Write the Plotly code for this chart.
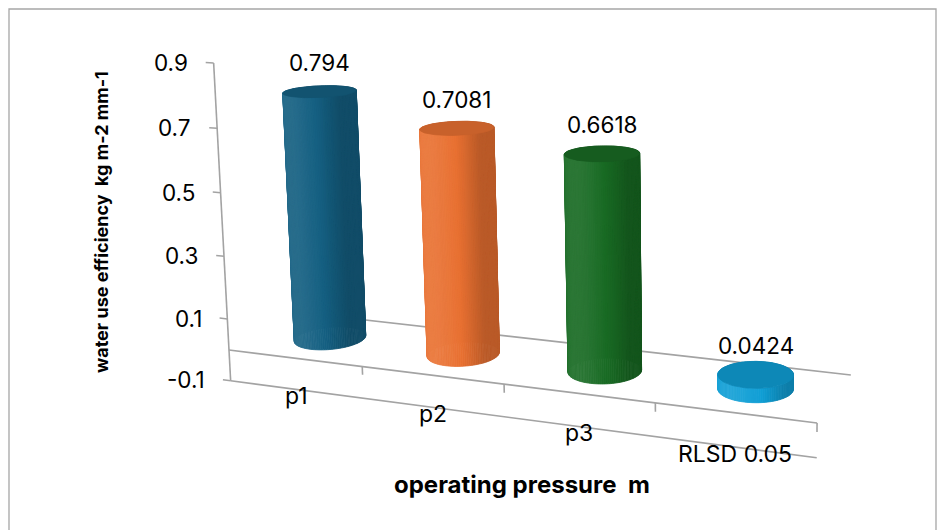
import numpy as np
import plotly.graph_objects as go

# ---- data -------------------------------------------------------------
categories = ["p1", "p2", "p3", "RLSD 0.05"]
values = [0.794, 0.7081, 0.6618, 0.0424]
value_labels = ["0.794", "0.7081", "0.6618", "0.0424"]
bar_colors = ["#156082", "#E97132", "#196B24", "#0F9ED5"]
y_tick_values = [-0.1, 0.1, 0.3, 0.5, 0.7, 0.9]
y_tick_labels = ["-0.1", "0.1", "0.3", "0.5", "0.7", "0.9"]
y_title = "water use efficiency  kg m-2 mm-1"
x_title = "operating pressure  m"

# ---- page / scene setup ----------------------------------------------
W, H = 946, 530
V_MIN, V_MAX = -0.1, 0.9
FONT = "Inter, Liberation Sans, Arial, sans-serif"
AXIS_GREY = "#a3a3a3"

# Perspective camera written as a projective map: image of the front-left
# floor corner plus the (scaled) vanishing points of the category, depth
# and value directions.
ORIGIN = np.array([229.0, 350.0, 1.0])
CAT_DIR = -0.0303 * np.array([-4035.0, -179.0, 1.0])
DEPTH_DIR = 0.0778 * np.array([1232.0, -167.0, 1.0])
VALUE_DIR = -0.03344 * np.array([724.0, 9600.0, 1.0])
DEPTH_PER_CAT = 1.22      # floor depth units per category unit (world metric)


def project(c, d, v):
    c, d, v = np.broadcast_arrays(np.atleast_1d(np.asarray(c, float)),
                                  np.atleast_1d(np.asarray(d, float)),
                                  np.atleast_1d(np.asarray(v, float)))
    h = (ORIGIN[:, None]
         + np.outer(CAT_DIR, c.ravel())
         + np.outer(DEPTH_DIR, d.ravel())
         + np.outer(VALUE_DIR, v.ravel()))
    return h[0] / h[2], h[1] / h[2], h[2]


def shade(hex_color, f):
    rgb = [int(hex_color[i:i + 2], 16) for i in (1, 3, 5)]
    out = []
    for ch in rgb:
        if f <= 1:
            out.append(ch * f)
        else:
            out.append(ch + (255 - ch) * (f - 1) * 0.6)
    return "rgb(%d,%d,%d)" % tuple(int(round(min(255, max(0, x)))) for x in out)


fig = go.Figure()


def segment(p0, p1, color=AXIS_GREY, width=1.6):
    xs, ys, _ = project([p0[0], p1[0]], [p0[1], p1[1]], [p0[2], p1[2]])
    fig.add_trace(go.Scatter(x=xs, y=ys, mode="lines",
                             line=dict(color=color, width=width),
                             hoverinfo="skip", showlegend=False))


n_cat = len(categories)

# floor edges and axes
segment((0, 1, 0), (n_cat, 1, 0))             # back edge of the floor
segment((0, 0, 0), (n_cat, 0, 0))             # category axis (front edge)
segment((0, 0, V_MIN), (n_cat, 0, V_MIN))     # lower front edge of the floor
segment((0, 0, V_MIN), (0, 0, V_MAX))         # value axis
for t in y_tick_values:
    segment((0, 0, t), (-0.06, 0, t))
for k in range(1, n_cat + 1):
    segment((k, 0, 0), (k, 0, -0.026))

# ---- cylinders ----------------------------------------------------------
R_CAT = 0.232
R_DEPTH = R_CAT * DEPTH_PER_CAT
theta = np.linspace(0, 2 * np.pi, 121)
light = np.array([np.cos(np.radians(245)), np.sin(np.radians(245))])

for i, (val, col) in enumerate(zip(values, bar_colors)):
    cc = i + 0.5 + R_CAT * np.cos(theta)
    dd = 0.5 + R_DEPTH * np.sin(theta)
    bx, by, bw = project(cc, dd, 0.0)
    tx, ty, tw = project(cc, dd, val)
    strips = []
    for k in range(len(theta) - 1):
        tm = 0.5 * (theta[k] + theta[k + 1])
        nrm = np.array([np.cos(tm), np.sin(tm)])
        lam = max(0.0, float(nrm @ light))
        f = 0.80 + 0.34 * lam ** 1.2
        depth = 0.5 * (bw[k] + bw[k + 1])
        strips.append((depth, k, shade(col, f)))
    strips.sort(key=lambda s: -s[0])          # far strips first
    for depth, k, fc in strips:
        xs = [bx[k], bx[k + 1], tx[k + 1], tx[k], bx[k]]
        ys = [by[k], by[k + 1], ty[k + 1], ty[k], by[k]]
        fig.add_trace(go.Scatter(x=xs, y=ys, mode="lines", fill="toself",
                                 fillcolor=fc, line=dict(color=fc, width=0.8),
                                 hoverinfo="skip", showlegend=False))
    # top cap
    cap = shade(col, 0.86)
    fig.add_trace(go.Scatter(x=tx, y=ty, mode="lines", fill="toself",
                             fillcolor=cap, line=dict(color=cap, width=0.8),
                             hoverinfo="skip", showlegend=False))

# ---- text ----------------------------------------------------------------
annotations = []
for i, (val, lab) in enumerate(zip(values, value_labels)):
    x, y, _ = project(i + 0.5, 0.5, val)
    annotations.append(dict(x=x[0], y=y[0] - 29, text=lab, showarrow=False,
                            xanchor="center", yanchor="middle",
                            font=dict(family=FONT, size=22.5, color="#000000")))
for t, lab in zip(y_tick_values, y_tick_labels):
    x, y, _ = project(-0.06, 0, t)
    annotations.append(dict(x=x[0] - 16, y=y[0], text=lab, showarrow=False,
                            xanchor="right", yanchor="middle",
                            font=dict(family=FONT, size=22.5, color="#000000")))
for i, lab in enumerate(categories):
    x, y, _ = project(i + 0.5, 0, -0.12)
    annotations.append(dict(x=x[0], y=y[0], text=lab, showarrow=False,
                            xanchor="center", yanchor="middle",
                            font=dict(family=FONT, size=23, color="#000000")))
annotations.append(dict(x=101, y=222, text="<b>%s</b>" % y_title, textangle=-90,
                        showarrow=False, xanchor="center", yanchor="middle",
                        font=dict(family=FONT, size=18, color="#000000")))
annotations.append(dict(x=522, y=484, text="<b>%s</b>" % x_title,
                        showarrow=False, xanchor="center", yanchor="middle",
                        font=dict(family=FONT, size=24, color="#000000")))

fig.update_layout(
    width=W, height=H,
    margin=dict(l=0, r=0, t=0, b=0),
    paper_bgcolor="white", plot_bgcolor="white",
    xaxis=dict(range=[0, W], visible=False, fixedrange=True),
    yaxis=dict(range=[H, 0], visible=False, fixedrange=True),
    annotations=annotations,
    shapes=[dict(type="rect", xref="x", yref="y", x0=9, y0=9, x1=936, y1=536,
                 line=dict(color="#a6a6a6", width=1.3), layer="below")],
    showlegend=False,
)

fig.write_html("out.html", config={"displayModeBar": False})
